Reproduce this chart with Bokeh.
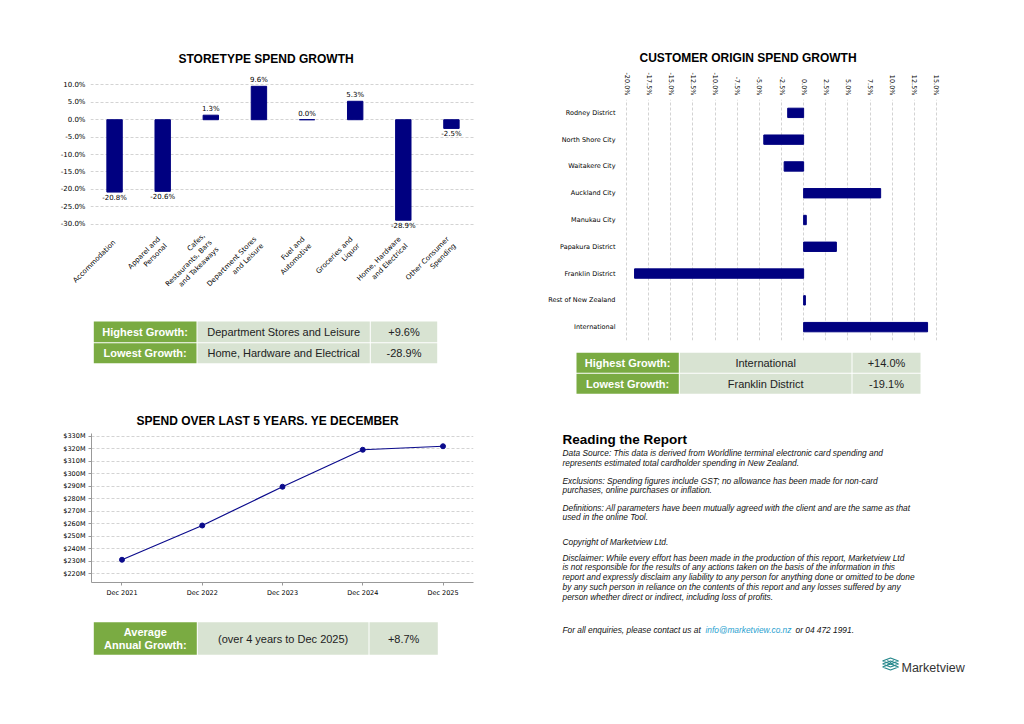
import math
from bokeh.plotting import figure
from bokeh.models import Range1d, FactorRange, FixedTicker, PrintfTickFormatter, Title, Spacer
from bokeh.layouts import column, row
from bokeh.embed import file_html
from bokeh.resources import INLINE
from bokeh.core.properties import value

# ---------------- data ----------------
store_types = ["Accommodation", "Apparel and\nPersonal", "Cafes,\nRestaurants, Bars\nand Takeaways",
               "Department Stores\nand Leisure", "Fuel and\nAutomotive", "Groceries and\nLiquor",
               "Home, Hardware\nand Electrical", "Other Consumer\nSpending"]
store_growth = [-20.8, -20.6, 1.3, 9.6, 0.0, 5.3, -28.9, -2.5]
store_ticks = [-30, -25, -20, -15, -10, -5, 0, 5, 10]

origins = ["Rodney District", "North Shore City", "Waitakere City", "Auckland City", "Manukau City",
           "Papakura District", "Franklin District", "Rest of New Zealand", "International"]
origin_growth = [-1.8, -4.5, -2.2, 8.7, 0.3, 3.7, -19.1, 0.2, 14.0]
origin_ticks = [-20, -17.5, -15, -12.5, -10, -7.5, -5, -2.5, 0, 2.5, 5, 7.5, 10, 12.5, 15]

years = [2021, 2022, 2023, 2024, 2025]
year_labels = ["Dec 2021", "Dec 2022", "Dec 2023", "Dec 2024", "Dec 2025"]
spend_m = [231.2, 258.6, 289.6, 319.2, 322.0]
spend_ticks = [220, 230, 240, 250, 260, 270, 280, 290, 300, 310, 320, 330]

store_table = [["Highest Growth:", "Department Stores and Leisure", "+9.6%"],
               ["Lowest Growth:", "Home, Hardware and Electrical", "-28.9%"]]
origin_table = [["Highest Growth:", "International", "+14.0%"],
                ["Lowest Growth:", "Franklin District", "-19.1%"]]
spend_table = [["Average\nAnnual Growth:", "(over 4 years to Dec 2025)", "+8.7%"]]

report_title = "Reading the Report"
paragraphs = [
    ["Data Source: This data is derived from Worldline terminal electronic card spending and",
     "represents estimated total cardholder spending in New Zealand."],
    ["Exclusions: Spending figures include GST; no allowance has been made for non-card",
     "purchases, online purchases or inflation."],
    ["Definitions: All parameters have been mutually agreed with the client and are the same as that",
     "used in the online Tool."],
    ["Copyright of Marketview Ltd."],
    ["Disclaimer: While every effort has been made in the production of this report, Marketview Ltd",
     "is not responsible for the results of any actions taken on the basis of the information in this",
     "report and expressly disclaim any liability to any person for anything done or omitted to be done",
     "by any such person in reliance on the contents of this report and any losses suffered by any",
     "person whether direct or indirect, including loss of profits."],
]
contact = ["For all enquiries, please contact us at", "info@marketview.co.nz", "or 04 472 1991."]

# ---------------- styles ----------------
NAVY = "#000080"
LINE_BLUE = "#0b0b8c"
GRID = "#c8c8c8"
GREEN = "#7aab42"
LIGHT = "#d8e3d2"
TICK_FONT = "DejaVu Sans"
SANS = "Liberation Sans"
TXT = "#222222"


def base_fig(**kw):
    p = figure(output_backend="svg", toolbar_location=None, **kw)
    p.outline_line_color = None
    p.background_fill_color = "white"
    p.border_fill_color = "white"
    return p


def add_title(p, text, offset, standoff=10):
    p.add_layout(Title(text=text, align="left", offset=offset, standoff=standoff,
                       text_font=SANS, text_font_size="12px", text_font_style="bold",
                       text_color="black"), "above")


def style_axis(ax, size="7px"):
    ax.axis_line_color = None
    ax.major_tick_line_color = None
    ax.minor_tick_line_color = None
    ax.major_tick_out = 0
    ax.major_tick_in = 0
    ax.major_label_text_font = TICK_FONT
    ax.major_label_text_font_size = size
    ax.major_label_text_color = "black"


# ---------------- storetype chart ----------------
tl = base_fig(width=512, height=304, x_range=FactorRange(*store_types), y_range=Range1d(-33, 13),
              min_border_left=82, min_border_right=45, min_border_top=66, min_border_bottom=78)
add_title(tl, "STORETYPE SPEND GROWTH", 88, standoff=18)
tl.vbar(x=store_types, top=store_growth, width=0.32, color=NAVY)
pos = [(c, v) for c, v in zip(store_types, store_growth) if v >= 0]
neg = [(c, v) for c, v in zip(store_types, store_growth) if v < 0]
tl.text(x=[c for c, v in pos], y=[v for c, v in pos], text=[f"{v:.1f}%" for c, v in pos],
        text_align="center", text_baseline="bottom", y_offset=-2,
        text_font=value(TICK_FONT), text_font_size="7px", text_color="black")
tl.text(x=[c for c, v in neg], y=[v for c, v in neg], text=[f"{v:.1f}%" for c, v in neg],
        text_align="center", text_baseline="top", y_offset=2,
        text_font=value(TICK_FONT), text_font_size="7px", text_color="black")
tl.xgrid.grid_line_color = None
tl.ygrid.grid_line_color = GRID
tl.ygrid.grid_line_dash = "3 2"
tl.ygrid.grid_line_width = 0.8
tl.yaxis.ticker = FixedTicker(ticks=store_ticks)
tl.yaxis.formatter = PrintfTickFormatter(format="%.1f%%")
style_axis(tl.yaxis)
tl.yaxis.major_label_standoff = 5
style_axis(tl.xaxis)
tl.xaxis.major_label_orientation = math.pi / 4
tl.xaxis.major_label_standoff = 7

# ---------------- customer origin chart ----------------
tr = base_fig(width=496, height=338, y_range=FactorRange(*reversed(origins)), x_range=Range1d(-20.8, 15.8),
              x_axis_location="above",
              min_border_left=99, min_border_right=73, min_border_top=91, min_border_bottom=6)
tr.hbar(y=origins, left=0, right=origin_growth, height=0.35, color=NAVY)
tr.ygrid.grid_line_color = None
tr.xgrid.grid_line_color = GRID
tr.xgrid.grid_line_dash = "3 2"
tr.xgrid.grid_line_width = 0.8
tr.xaxis.ticker = FixedTicker(ticks=origin_ticks)
tr.xaxis.formatter = PrintfTickFormatter(format="%.1f%%")
style_axis(tr.xaxis, "6.5px")
tr.xaxis.major_label_orientation = -math.pi / 2
tr.xaxis.major_label_standoff = 4
style_axis(tr.yaxis, "6.5px")
tr.yaxis.major_label_standoff = 4
add_title(tr, "CUSTOMER ORIGIN SPEND GROWTH", 20)

# ---------------- spend line chart ----------------
bl = base_fig(width=512, height=240, x_range=Range1d(2020.62, 2025.38), y_range=Range1d(213.0, 332.2),
              min_border_left=83, min_border_right=47, min_border_top=61, min_border_bottom=30)
add_title(bl, "SPEND OVER LAST 5 YEARS. YE DECEMBER", 45, standoff=11)
bl.line(years, spend_m, color=LINE_BLUE, line_width=1.2)
bl.scatter(years, spend_m, size=5, color=LINE_BLUE)
bl.xgrid.grid_line_color = None
bl.ygrid.grid_line_color = GRID
bl.ygrid.grid_line_dash = "3 2"
bl.ygrid.grid_line_width = 0.8
for ax in (bl.xaxis, bl.yaxis):
    ax.axis_line_color = "#999999"
    ax.major_tick_line_color = "#999999"
    ax.minor_tick_line_color = None
    ax.major_tick_out = 3
    ax.major_tick_in = 0
    ax.major_label_text_font = TICK_FONT
    ax.major_label_text_font_size = "6.5px"
    ax.major_label_text_color = "black"
    ax.major_label_standoff = 3
bl.yaxis.ticker = FixedTicker(ticks=spend_ticks)
bl.yaxis.formatter = PrintfTickFormatter(format="$%dM")
bl.xaxis.ticker = FixedTicker(ticks=years)
bl.xaxis.major_label_overrides = {y: lab for y, lab in zip(years, year_labels)}


# ---------------- tables ----------------
def make_table(width, height, rows, col_edges, row_edges, size="11px"):
    p = base_fig(width=width, height=height, x_range=Range1d(0, width), y_range=Range1d(height, 0),
                 x_axis_type=None, y_axis_type=None, min_border=0)
    p.xgrid.grid_line_color = None
    p.ygrid.grid_line_color = None
    for r, cells in enumerate(rows):
        top, bottom = row_edges[r]
        for c, txt in enumerate(cells):
            left, right = col_edges[c]
            p.quad(left=[left], right=[right], top=[top], bottom=[bottom],
                   fill_color=GREEN if c == 0 else LIGHT, line_color=None)
            p.text(x=[(left + right) / 2], y=[(top + bottom) / 2], text=[txt],
                   text_align="center", text_baseline="middle", text_font=value(SANS),
                   text_font_size=size, text_font_style="bold" if c == 0 else "normal",
                   text_color="white" if c == 0 else TXT, text_line_height=1.05)
    return p


tl_tab = make_table(512, 60, store_table, [(85.3, 188), (189, 361.3), (362.3, 428.7)],
                    [(9, 29.7), (30.7, 50.7)])
tr_tab = make_table(496, 54, origin_table, [(56, 158.3), (159.3, 331), (332, 400)],
                    [(6.3, 26.3), (27.3, 47.3)])
bl_tab = make_table(512, 96, spend_table, [(85.3, 188.3), (189.3, 360), (361, 429.3)],
                    [(9.7, 42.3)])

# ---------------- report text ----------------
txt = base_fig(width=496, height=308, x_range=Range1d(0, 496), y_range=Range1d(308, 0),
               x_axis_type=None, y_axis_type=None, min_border=0)
txt.xgrid.grid_line_color = None
txt.ygrid.grid_line_color = None
txt.text(x=[42], y=[38.7], text=[report_title], text_baseline="middle", text_font=value(SANS),
         text_font_size="13.5px", text_font_style="bold", text_color="black")
para_tops = [52.5, 80, 107, 141, 157]
step = 9.9
xs, ys, ts = [], [], []
for top, lines in zip(para_tops, paragraphs):
    for i, line in enumerate(lines):
        xs.append(42)
        ys.append(top + i * step)
        ts.append(line)
txt.text(x=xs, y=ys, text=ts, text_baseline="middle", text_font=value(SANS), text_font_size="8.35px",
         text_font_style="italic", text_color="#111111")
txt.text(x=[42, 185, 275], y=[229, 229, 229], text=contact, text_baseline="middle", text_font=value(SANS),
         text_font_size="8.35px", text_font_style="italic",
         text_color=["#111111", "#2a9fd0", "#111111"])
# logo
for yc in [260.5, 263.5, 266.5]:
    txt.line(x=[362, 370, 378, 370, 362], y=[yc, yc - 3, yc, yc + 3, yc], color="#23868a", line_width=1.2)
txt.line(x=[366, 374], y=[259, 265], color="#23868a", line_width=0.8)
txt.line(x=[374, 366], y=[259, 265], color="#23868a", line_width=0.8)
txt.text(x=[381], y=[267], text=["Marketview"], text_baseline="middle", text_font=value(SANS),
         text_font_size="12.5px", text_color="#333333")

# wrap every figure in its own row so that frames are not aligned across siblings
left = column(row(tl), row(tl_tab), row(bl), row(bl_tab))
right = column(row(tr), row(tr_tab), row(txt))
content = row(left, right)
layout = column(Spacer(width=1016, height=8), row(Spacer(width=8, height=700), content))

with open("out.html", "w") as f:
    f.write(file_html(layout, INLINE))
